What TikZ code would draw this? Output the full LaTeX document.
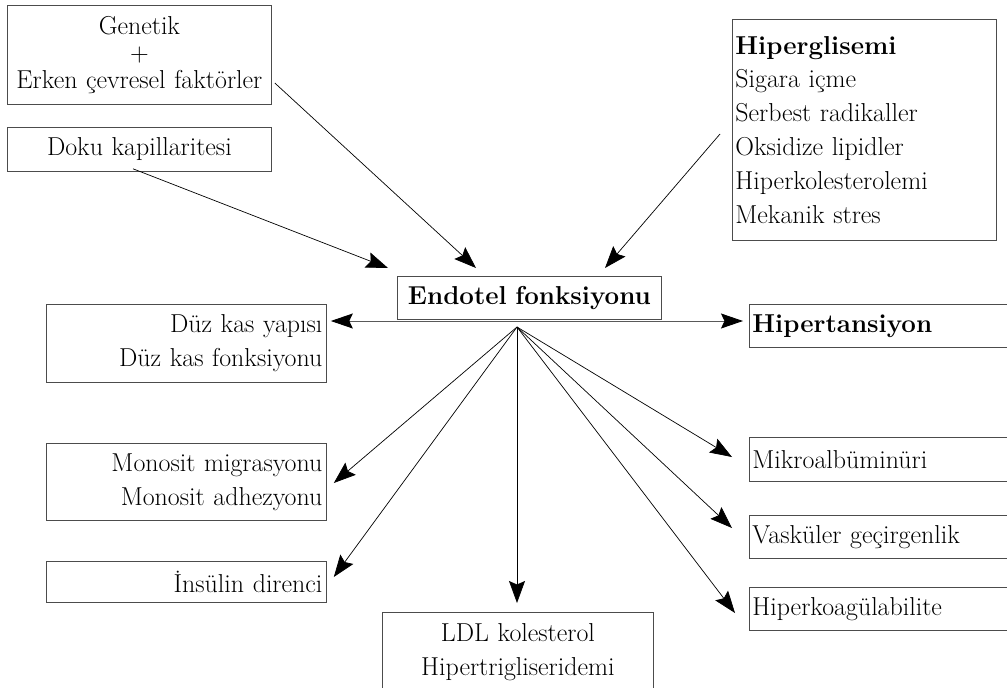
\documentclass[tikz,border=0pt]{standalone}
\usetikzlibrary{arrows.meta,calc}
\newcommand{\fsz}{\fontsize{26}{34}\selectfont}
\begin{document}
\begin{tikzpicture}[x=1bp,y=-1bp,
  box/.style={draw=black!70, line width=0.8bp, inner ysep=0pt, inner xsep=4bp, anchor=north west, font=\fsz},
  arr/.style={-{Stealth[length=22bp,width=16bp,inset=3.5bp]}, line width=0.7bp, black},
  harr/.style={{Stealth[length=22bp,width=15bp,inset=3.5bp,color=black]}-{Stealth[length=22bp,width=15bp,inset=3.5bp,color=black]}, line width=0.9bp, draw=black!65}]
\clip (0,0) rectangle (1007,688);
\fill[white] (0,0) rectangle (1007,688);
\node[box, minimum width=264bp, minimum height=99bp, text width=256bp, align=center, font=\fontsize{26}{27}\selectfont] (gen) at (7,5) {Genetik\\+\\Erken çevresel faktörler};
\node[box, minimum width=264bp, minimum height=44bp, text width=256bp, align=center] (doku) at (7,127) {Doku kapillaritesi};
\node[box, minimum width=264bp, minimum height=221bp, text width=258bp, inner xsep=3bp, align=left] (hiper) at (732,19) {\textbf{Hiperglisemi}\\Sigara içme\\Serbest radikaller\\Oksidize lipidler\\Hiperkolesterolemi\\Mekanik stres\\[-8bp]};
\node[box, minimum width=264bp, minimum height=43bp, text width=256bp, align=center, font=\fsz\bfseries] (endo) at (397,276) {Endotel fonksiyonu};
\node[box, minimum width=280bp, minimum height=78bp, text width=272bp, align=right] (duz) at (46,304) {Düz kas yapısı\\Düz kas fonksiyonu};
\node[box, minimum width=280bp, minimum height=77bp, text width=272bp, align=right] (mono) at (46,443) {Monosit migrasyonu\\Monosit adhezyonu};
\node[box, minimum width=280bp, minimum height=41bp, text width=272bp, align=right] (ins) at (46,561) {İnsülin direnci};
\node[box, minimum width=271bp, minimum height=80bp, text width=263bp, align=center] (ldl) at (382,612) {LDL kolesterol\\Hipertrigliseridemi};
\node[box, minimum width=300bp, minimum height=43bp, text width=294bp, inner xsep=3bp, align=left, font=\fsz\bfseries] (hyp) at (749,304) {Hipertansiyon};
\node[box, minimum width=300bp, minimum height=44bp, text width=294bp, inner xsep=3bp, align=left] (mikro) at (749,437) {Mikroalbüminüri};
\node[box, minimum width=300bp, minimum height=43bp, text width=294bp, inner xsep=3bp, align=left] (vask) at (749,515) {Vasküler geçirgenlik};
\node[box, minimum width=300bp, minimum height=43bp, text width=294bp, inner xsep=3bp, align=left] (hko) at (749,587) {Hiperkoagülabilite};
\coordinate (hub) at ([shift={(120,51)}]endo.north west);
\draw[arr] ([shift={(3,78)}]gen.north east) -- ([shift={(79,-8)}]endo.north west);
\draw[arr] ([shift={(126,-3)}]doku.south west) -- ([shift={(-9,-8)}]endo.north west);
\draw[arr] ([shift={(-12,115)}]hiper.north west) -- ([shift={(208,-8)}]endo.north west);
\draw[harr] ([shift={(4,17)}]duz.north east) -- ([shift={(-6,17)}]hyp.north west);
\draw[arr] (hub) -- ([shift={(7,40)}]mono.north east);
\draw[arr] (hub) -- ([shift={(7,16)}]ins.north east);
\draw[arr] (hub) -- ([shift={(135,-9)}]ldl.north west);
\draw[arr] (hub) -- ([shift={(-17,20)}]mikro.north west);
\draw[arr] (hub) -- ([shift={(-17,13)}]vask.north west);
\draw[arr] (hub) -- ([shift={(-14,26)}]hko.north west);
\end{tikzpicture}
\end{document}
